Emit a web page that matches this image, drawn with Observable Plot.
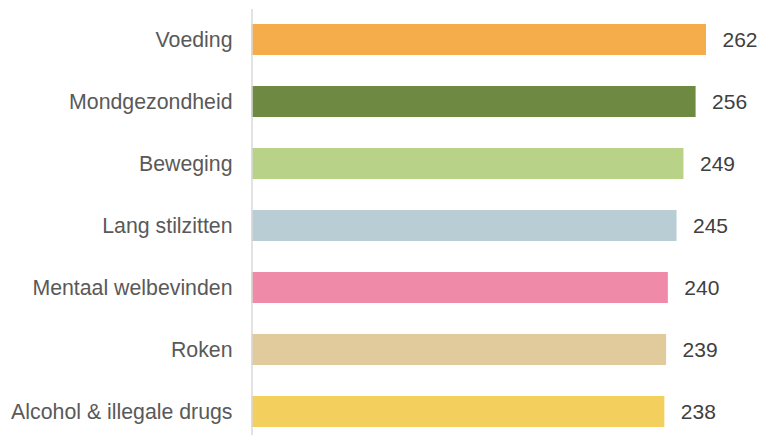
<!DOCTYPE html>
<html>
<head>
<meta charset="utf-8">
<script src="https://cdn.jsdelivr.net/npm/d3@7"></script>
<script src="https://cdn.jsdelivr.net/npm/@observablehq/plot@0.6"></script>
<style>
  html, body { margin: 0; padding: 0; background: #fff; }
  #chart { width: 760px; height: 435px; }
</style>
</head>
<body>
<div id="chart"></div>
<script>
const categories = ["Voeding", "Mondgezondheid", "Beweging", "Lang stilzitten", "Mentaal welbevinden", "Roken", "Alcohol & illegale drugs"];
const values = [262, 256, 249, 245, 240, 239, 238];
const colors = ["#F5AC4B", "#6E8A42", "#B8D388", "#B8CDD4", "#EF8AA8", "#E1CA9C", "#F3D05E"];

const data = categories.map((c, i) => ({category: c, value: values[i], color: colors[i]}));

const chart = Plot.plot({
  width: 760,
  height: 435,
  marginLeft: 251,
  marginRight: 10,
  marginTop: 16,
  marginBottom: 0,
  style: {fontFamily: "'Liberation Sans', Arial, sans-serif", fontSize: "21px", color: "#595959", background: "#fff"},
  x: {domain: [0, 262], range: [251.5, 706], axis: null},
  y: {domain: categories, paddingInner: 0.5, paddingOuter: 0.129, label: null},
  marks: [
    Plot.barX(data, {y: "category", x: "value", fill: "color"}),
    Plot.ruleX([0], {stroke: "#D9D9D9", strokeWidth: 1.5, insetTop: -7}),
    Plot.axisY({tickSize: 0, tickPadding: 19, fontSize: 21.3, label: null}),
    Plot.text(data, {y: "category", x: "value", text: d => String(d.value), dx: 16, textAnchor: "start", fontSize: 21, fill: "#404040"})
  ]
});
document.getElementById("chart").appendChild(chart);
</script>
</body>
</html>
